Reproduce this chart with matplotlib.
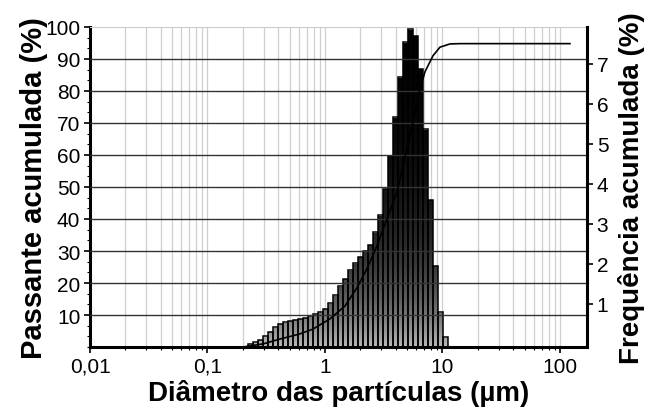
import numpy as np
import matplotlib
matplotlib.use("Agg")
import matplotlib.pyplot as plt
from matplotlib.ticker import NullFormatter, AutoMinorLocator, LogLocator

plt.rcParams["font.family"] = ["Liberation Sans", "DejaVu Sans"]

# bar centres (um) and heights (left-axis units)
diam = [0.232, 0.256, 0.283, 0.312, 0.344, 0.379, 0.418, 0.461, 0.509, 0.561,
        0.619, 0.682, 0.753, 0.830, 0.915, 1.01, 1.114, 1.228, 1.355, 1.494,
        1.648, 1.818, 2.005, 2.212, 2.439, 2.690, 2.967, 3.273, 3.610, 3.981,
        4.391, 4.843, 5.342, 5.891, 6.498, 7.167, 7.905, 8.718, 9.616, 10.61]
freq = [0.8, 1.5, 2.3, 3.4, 4.8, 6.2, 7.2, 7.7, 8.2, 8.5,
        8.8, 9.1, 9.6, 10.3, 10.8, 12.0, 13.7, 16.2, 19.0, 21.4,
        24.0, 26.2, 28.2, 30.0, 32.0, 35.9, 41.2, 49.4, 59.8, 71.8,
        84.3, 95.2, 99.3, 97.3, 87.0, 68.0, 46.0, 25.4, 10.8, 3.0]

# cumulative curve
cum_d = [0.2, 0.3, 0.414, 0.6, 0.79, 1.103, 1.479, 1.87, 2.28, 2.77, 3.37, 4.1,
         4.61, 5.5, 6.44, 7.1, 8.3, 9.52, 11.6, 14.1, 121.6]
cum_v = [0.0, 1.0, 2.5, 4.0, 5.6, 8.8, 12.8, 18.5, 24.5, 31.6, 40.0, 48.5,
         56.5, 69.0, 80.6, 86.0, 91.0, 93.7, 94.7, 94.8, 94.8]

x_ticks = [0.01, 0.1, 1, 10, 100]
x_labels = ["0,01", "0,1", "1", "10", "100"]
left_ticks = [10, 20, 30, 40, 50, 60, 70, 80, 90, 100]
right_ticks = [1, 2, 3, 4, 5, 6, 7]

fig = plt.figure(figsize=(6.49, 4.14), dpi=100)
ax = fig.add_axes([0.1387, 0.1594, 0.7658, 0.773])
ax.set_xscale("log")

# light vertical grid (major + minor log positions)
ax.xaxis.set_minor_locator(LogLocator(base=10, subs=np.arange(2, 10)))
ax.grid(True, which="both", axis="x", color="#cfcfcf", lw=0.9, zorder=0)
ax.set_axisbelow(True)

# bars with a vertical grey gradient
c = np.array(diam)
r = np.sqrt(c[1] / c[0])
lefts = c / r
widths = c * r - lefts
grad = np.linspace(0, 100, 256)[:, None]
grad_vals = 0.72 * np.exp(-grad / 22.0)
bars = ax.bar(lefts, freq, width=widths, align="edge", facecolor="none",
              edgecolor="black", linewidth=1.1, zorder=3)
for b in bars:
    im = ax.imshow(grad_vals, cmap="gray", vmin=0, vmax=1, origin="lower",
                   extent=[0.2, 12, 0, 100], aspect="auto", zorder=2,
                   interpolation="bilinear")
    im.set_clip_path(b)
ax.set_xlim(0.01, 170)
ax.set_ylim(0, 100)

# horizontal grid on top of bars
for yv in left_ticks[:-1]:
    ax.axhline(yv, color="#333333", lw=1.0, zorder=4)

ax.plot(cum_d, cum_v, color="black", lw=1.2, zorder=5)

ax.set_xticks(x_ticks)
ax.set_xticklabels(x_labels)
ax.xaxis.set_minor_formatter(NullFormatter())
ax.set_yticks(left_ticks)
ax.yaxis.set_minor_locator(AutoMinorLocator(3))
ax.tick_params(axis="both", which="major", labelsize=15, direction="out",
               length=4, width=1.2, pad=3)
ax.tick_params(axis="both", which="minor", direction="out", length=2, width=0.8)

for side in ["left", "bottom"]:
    ax.spines[side].set_linewidth(2.2)
ax.spines["top"].set_color("#cccccc")
ax.spines["top"].set_linewidth(0.8)
ax.spines["right"].set_visible(False)

ax2 = ax.twinx()
ax2.set_ylim(-0.08, 7.92)
ax2.set_yticks(right_ticks)
ax2.tick_params(axis="y", labelsize=15, direction="out", length=4, width=1.2, pad=3)
ax2.spines["right"].set_linewidth(2.2)
for side in ["left", "bottom", "top"]:
    ax2.spines[side].set_visible(False)

ax.set_xlabel("Diâmetro das partículas (µm)", fontsize=20, fontweight="bold", labelpad=2)
ax.set_ylabel("Passante acumulada (%)", fontsize=21, fontweight="bold", labelpad=-2)
ax2.set_ylabel("Frequência acumulada (%)", fontsize=20, fontweight="bold", labelpad=7)

fig.savefig("out.png", dpi=100)
